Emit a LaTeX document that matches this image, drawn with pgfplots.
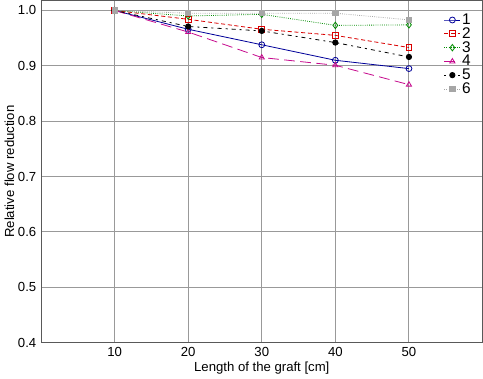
\documentclass[border=0pt]{standalone}
\usepackage{pgfplots}
\pgfplotsset{compat=1.18}
\usepackage{fontspec}
\setmainfont{Liberation Sans}
\begin{document}
\begin{tikzpicture}[x=1pt,y=1pt]
\begin{axis}[
  scale only axis,
  width=329pt, height=255pt,
  xmin=0, xmax=60, ymin=0.4, ymax=1.018,
  xtick={10,20,30,40,50},
  ytick={0.4,0.5,0.6,0.7,0.8,0.9,1.0},
  yticklabel style={/pgf/number format/.cd,fixed,fixed zerofill,precision=1},
  /pgf/number format/assume math mode=true,
  grid=major,
  major grid style={gray!80, line width=0.7pt},
  axis line style={gray!70!black, line width=0.7pt},
  tick style={draw=none},
  tick label style={font=\fontsize{9.8}{11}\selectfont},
  label style={font=\fontsize{9.8}{11}\selectfont},
  xlabel={Length of the graft [cm]},
  ylabel={Relative flow reduction},
  xlabel style={yshift=3pt},
  ylabel style={yshift=-4pt},
  legend style={draw=none, fill=none, at={(0.98,0.97)}, anchor=north east,
    font=\fontsize{11.5}{12}\selectfont, row sep=-1.2pt, inner sep=1pt,
    nodes={inner sep=1pt}},
  legend cell align=left,
  legend image code/.code={%
    \draw[mark repeat=2,mark phase=2,#1] plot coordinates {(0pt,0pt) (6pt,0pt) (12pt,0pt)};},
  every axis plot/.append style={line width=0.6pt},
]
\addplot[blue!60!black, mark=o, mark options={solid, fill=white, scale=1.1}]
  coordinates {(10,1.0) (20,0.966) (30,0.938) (40,0.910) (50,0.895)};
\addlegendentry{1}
\addplot[red!85!black, densely dashed, mark=square, mark options={solid, fill=white, scale=1.1}]
  coordinates {(10,1.0) (20,0.984) (30,0.966) (40,0.955) (50,0.933)};
\addlegendentry{2}
\addplot[green!55!black, densely dotted, mark=diamond, mark options={solid, fill=white, scale=1.2}]
  coordinates {(10,1.0) (20,0.990) (30,0.993) (40,0.973) (50,0.974)};
\addlegendentry{3}
\addplot[magenta!80!blue, dash pattern=on 8pt off 4pt, mark=triangle, mark options={solid, fill=white, scale=1.1}]
  coordinates {(10,1.0) (20,0.961) (30,0.915) (40,0.901) (50,0.866)};
\addlegendentry{4}
\addplot[black, dash pattern=on 1.5pt off 3pt on 3pt off 3pt, mark=*, mark options={solid, scale=1.0}]
  coordinates {(10,1.0) (20,0.971) (30,0.963) (40,0.942) (50,0.916)};
\addlegendentry{5}
\addplot[gray!70, densely dotted, mark=square*, mark options={solid, scale=1.0}]
  coordinates {(10,1.0) (20,0.995) (30,0.995) (40,0.995) (50,0.983)};
\addlegendentry{6}
\end{axis}
\end{tikzpicture}
\end{document}
